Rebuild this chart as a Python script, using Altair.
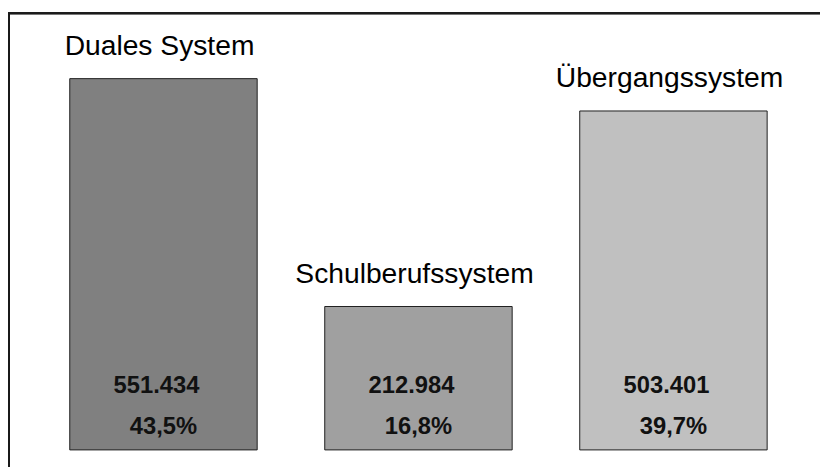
import altair as alt
import pandas as pd

names = ["Duales System", "Schulberufssystem", "Übergangssystem"]
values = [551434, 212984, 503401]
value_labels = ["551.434", "212.984", "503.401"]
shares = ["43,5%", "16,8%", "39,7%"]
colors = ["#808080", "#a0a0a0", "#c0c0c0"]

df = pd.DataFrame({"name": names, "value": values, "vlabel": value_labels, "share": shares})

FONT = "Liberation Sans"

x = alt.X("name:N", sort=names,
          scale=alt.Scale(range=[28.25, 800.75], paddingInner=0.265, paddingOuter=0.1325),
          axis=None)
y_scale = alt.Scale(domain=[0, 653000], range=[444, 0], nice=False)

base = alt.Chart(df)

bars = base.mark_bar(stroke="#1e1e1e", strokeWidth=1).encode(
    x=x,
    y=alt.Y("value:Q", scale=y_scale, axis=None),
    color=alt.Color("name:N", scale=alt.Scale(domain=names, range=colors), legend=None),
)

cat_text = base.mark_text(font=FONT, fontSize=28.5, baseline="alphabetic", dy=-24, dx=-4, color="#000").encode(
    x=x, y=alt.Y("value:Q", scale=y_scale, axis=None), text="name:N"
)

val_text = base.mark_text(font=FONT, fontSize=24, fontWeight="bold", baseline="alphabetic",
                          dy=-57, dx=-7, color="#111").encode(
    x=x, y=alt.datum(0), text="vlabel:N"
)

share_text = base.mark_text(font=FONT, fontSize=24, fontWeight="bold", baseline="alphabetic",
                            dy=-16, dx=0, color="#111").encode(
    x=x, y=alt.datum(0), text="share:N"
)

top_line = alt.Chart(df).mark_rule(color="#1a1a1a", strokeWidth=2).encode(
    x=alt.value(0), x2=alt.value(820), y=alt.value(3)
)
left_line = alt.Chart(df).mark_rule(color="#1a1a1a", strokeWidth=2).encode(
    x=alt.value(1), y=alt.value(3), y2=alt.value(461)
)

chart = alt.layer(bars, cat_text, val_text, share_text, top_line, left_line).properties(
    width=820, height=461,
    autosize=alt.AutoSizeParams(type="none"),
    padding=0,
    background="white",
).configure_view(stroke=None)

chart.save("out.html", embed_options={"renderer": "svg", "actions": False})
